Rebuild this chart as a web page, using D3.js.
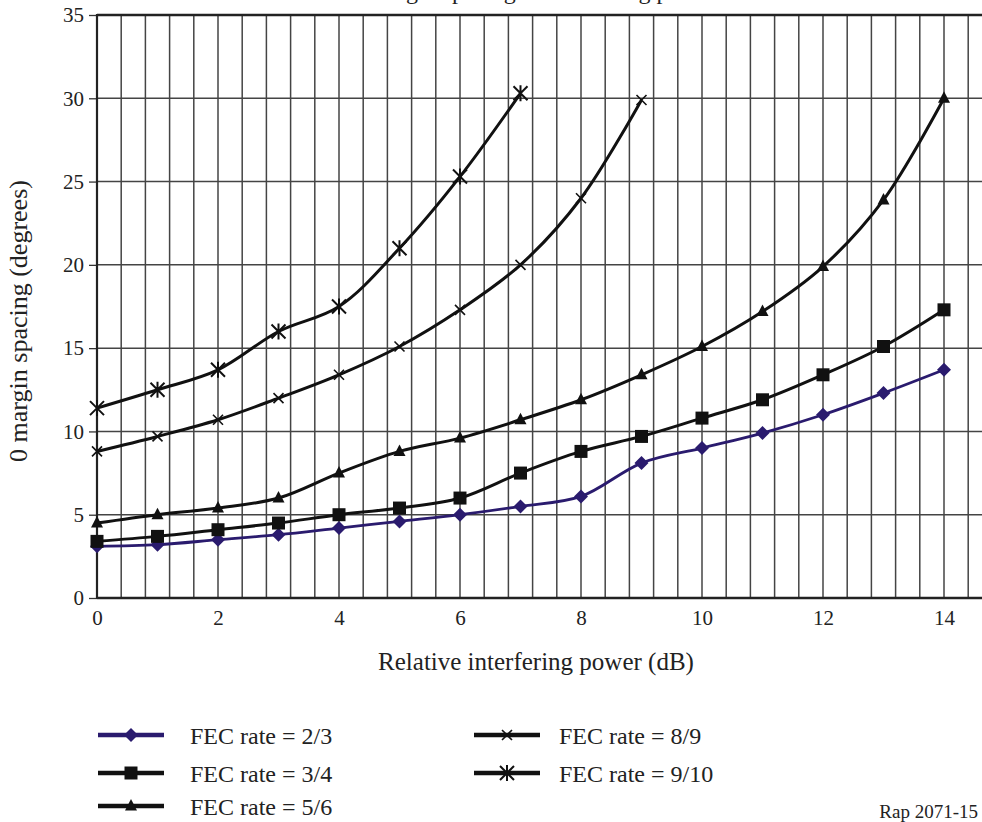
<!DOCTYPE html>
<html><head><meta charset="utf-8">
<script src="https://cdn.jsdelivr.net/npm/d3@7"></script>
<style>
html,body{margin:0;padding:0;background:#fff;}
svg{display:block;font-family:"Liberation Serif","Times New Roman",serif;}
</style></head>
<body>
<svg id="chart" width="982" height="822"></svg>
<script>
// ---- data ----
const xValues = [0,1,2,3,4,5,6,7,8,9,10,11,12,13,14];
const fec23  = [3.1,3.2,3.5,3.8,4.2,4.6,5.0,5.5,6.1,8.1,9.0,9.9,11.0,12.3,13.7];
const fec34  = [3.4,3.7,4.1,4.5,5.0,5.4,6.0,7.5,8.8,9.7,10.8,11.9,13.4,15.1,17.3];
const fec56  = [4.5,5.0,5.4,6.0,7.5,8.8,9.6,10.7,11.9,13.4,15.1,17.2,19.9,23.9,30.0];
const fec89  = [8.8,9.7,10.7,12.0,13.4,15.1,17.3,20.0,24.0,29.9];
const fec910 = [11.4,12.5,13.7,16.0,17.5,21.0,25.3,30.3];
const seriesNames = ["FEC rate = 2/3","FEC rate = 3/4","FEC rate = 5/6","FEC rate = 8/9","FEC rate = 9/10"];
const xTickLabels = [0,2,4,6,8,10,12,14];
const yTickLabels = [0,5,10,15,20,25,30,35];
const titleText = "0 margin spacing vs interfering power";
const xAxisTitle = "Relative interfering power (dB)";
const yAxisTitle = "0 margin spacing (degrees)";
const footnote = "Rap 2071-15";

// ---- layout ----
const svg = d3.select("#chart");
const x0 = 97, x14 = 944, yBottom = 598, yTop = 15;
const pxPerUnit = (x14 - x0) / 14;
const xMax = (982 - x0) / pxPerUnit;
const x = d3.scaleLinear().domain([0, xMax]).range([x0, 982]);
const y = d3.scaleLinear().domain([0, 35]).range([yBottom, yTop]);

// title (cut off at top, as in the reference)
svg.append("text").attr("x", 351).attr("y", -1).attr("text-anchor","start")
  .attr("font-size", 24).attr("fill","#222").text(titleText);

// grid
const g = svg.append("g");
const vGrid = d3.range(1, Math.floor(xMax/0.4)+1).map(i => +(i*0.4).toFixed(2));
g.selectAll("line.vg").data(vGrid).join("line")
  .attr("x1", d=>x(d)).attr("x2", d=>x(d)).attr("y1", y(0)).attr("y2", y(35))
  .attr("stroke","#444").attr("stroke-width",1.5);
g.selectAll("line.hg").data(yTickLabels.slice(1,-1)).join("line")
  .attr("x1", x(0)).attr("x2", 982).attr("y1", d=>y(d)).attr("y2", d=>y(d))
  .attr("stroke","#444").attr("stroke-width",1.5);

// axes
const yAxis = d3.axisLeft(y).tickValues(yTickLabels).tickSize(8).tickPadding(5);
const ya = svg.append("g").attr("transform",`translate(${x(0)},0)`).call(yAxis);
ya.select(".domain").remove();
ya.selectAll(".tick line").attr("stroke","#333").attr("stroke-width",1.3);
ya.selectAll(".tick text").attr("font-size",21).attr("fill","#222")
  .attr("font-family","Liberation Serif");

const xAxis = d3.axisBottom(x).tickValues(xTickLabels).tickSize(0).tickPadding(12);
const xa = svg.append("g").attr("transform",`translate(0,${y(0)})`).call(xAxis);
xa.select(".domain").remove();
xa.selectAll(".tick text").attr("font-size",21).attr("fill","#222")
  .attr("font-family","Liberation Serif");

// frame lines
svg.append("line").attr("x1",x(0)).attr("x2",982).attr("y1",y(0)).attr("y2",y(0)).attr("stroke","#222").attr("stroke-width",2.6);
svg.append("line").attr("x1",x(0)).attr("x2",982).attr("y1",y(35)).attr("y2",y(35)).attr("stroke","#222").attr("stroke-width",2.6);
svg.append("line").attr("x1",x(0)).attr("x2",x(0)).attr("y1",y(0)+1).attr("y2",y(35)-1).attr("stroke","#222").attr("stroke-width",2.2);

// axis titles
svg.append("text").attr("x",536).attr("y",670).attr("text-anchor","middle")
  .attr("font-size",25).attr("fill","#222").text(xAxisTitle);
svg.append("text").attr("transform","translate(27,321) rotate(-90)").attr("text-anchor","middle")
  .attr("font-size",26).attr("fill","#222").text(yAxisTitle);

// series
const colors = ["#2a1b6e","#111","#111","#111","#111"];
const allSeries = [fec23,fec34,fec56,fec89,fec910];
const symbols = ["diamond","square","triangle","cross","asterisk"];
function markerPath(kind){
  switch(kind){
    case "diamond": return "M0,-7L7,0L0,7L-7,0Z";
    case "square": return "M-6.5,-6.5H6.5V6.5H-6.5Z";
    case "triangle": return "M0,-7L6,4.5L-6,4.5Z";
    case "cross": return "M-5,-5L5,5M-5,5L5,-5";
    case "asterisk": return "M-7,-7L7,7M-7,7L7,-7M0,-8V8";
  }
}
const line = d3.line().x(d=>x(d[0])).y(d=>y(d[1])).curve(d3.curveCatmullRom.alpha(0.5));
allSeries.forEach((vals,i)=>{
  const pts = vals.map((v,j)=>[xValues[j],v]);
  const sg = svg.append("g");
  sg.append("path").datum(pts).attr("d",line).attr("fill","none")
    .attr("stroke",colors[i]).attr("stroke-width", i===0?2.8:3);
  const filled = ["diamond","square","triangle"].includes(symbols[i]);
  sg.selectAll("path.m").data(pts).join("path")
    .attr("transform",d=>`translate(${x(d[0])},${y(d[1])})`)
    .attr("d",markerPath(symbols[i]))
    .attr("fill",filled?colors[i]:"none")
    .attr("stroke",colors[i]).attr("stroke-width",filled?0:(symbols[i]==="asterisk"?2:1.6));
});

// legend
const legendPos = [[98,735],[98,773],[98,806],[474,735],[474,773]];
const legendTextX = [190,190,190,559,559];
seriesNames.forEach((name,i)=>{
  const [lx,ly] = legendPos[i];
  const lg = svg.append("g");
  lg.append("line").attr("x1",lx).attr("x2",lx+66).attr("y1",ly).attr("y2",ly)
    .attr("stroke",colors[i]).attr("stroke-width",4.5);
  const filled = ["diamond","square","triangle"].includes(symbols[i]);
  lg.append("path").attr("transform",`translate(${lx+33},${ly})`)
    .attr("d",markerPath(symbols[i]))
    .attr("fill",filled?colors[i]:"none")
    .attr("stroke",colors[i]).attr("stroke-width",filled?0:(symbols[i]==="asterisk"?2:1.6));
  lg.append("text").attr("x",legendTextX[i]).attr("y",ly+8.5).attr("font-size",24).attr("fill","#222").text(name);
});

svg.append("text").attr("x",978).attr("y",818).attr("text-anchor","end")
  .attr("font-size",19).attr("fill","#222").text(footnote);
</script>
</body></html>
